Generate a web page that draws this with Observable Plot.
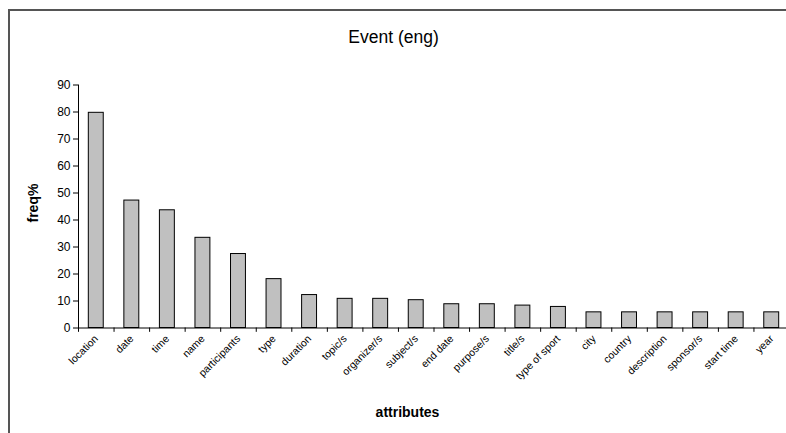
<!DOCTYPE html>
<html>
<head>
<meta charset="utf-8">
<script src="https://cdn.jsdelivr.net/npm/d3@7"></script>
<script src="https://cdn.jsdelivr.net/npm/@observablehq/plot@0.6"></script>
<style>
  html, body { margin: 0; padding: 0; background: #fff; }
  #wrap { position: relative; width: 786px; height: 433px; overflow: hidden; }
  #frame { position: absolute; left: 8px; top: 9px; width: 900px; height: 600px; border: 2px solid #555; box-sizing: border-box; }
  #chart { position: absolute; left: 0; top: 0; }
</style>
</head>
<body>
<div id="wrap"><div id="frame"></div><div id="chart"></div></div>
<script>
const categories = ["location","date","time","name","participants","type","duration","topic/s","organizer/s","subject/s","end date","purpose/s","title/s","type of sport","city","country","description","sponsor/s","start time","year"];
const values = [79.7,47.2,43.6,33.4,27.4,18.1,12.2,10.8,10.8,10.3,8.8,8.8,8.3,7.8,5.8,5.8,5.8,5.8,5.8,5.8];
const yTicks = [0,10,20,30,40,50,60,70,80,90];
const title = "Event (eng)";
const yLabel = "freq%";
const xLabel = "attributes";

const data = categories.map((c, i) => ({attr: c, freq: values[i]}));
const xRange = [78, 789];
const step = (xRange[1] - xRange[0]) / categories.length;
const font = "Liberation Sans, Arial, sans-serif";

const chart = Plot.plot({
  width: 786,
  height: 433,
  marginLeft: 78,
  marginRight: 0,
  marginTop: 84.5,
  marginBottom: 105.5,
  style: {fontFamily: font, background: "transparent", color: "#000"},
  x: {domain: categories, range: xRange, paddingInner: 0.58, paddingOuter: 0.29, round: false, label: null},
  y: {domain: [0, 90], range: [327.5, 84.5], label: null},
  marks: [
    Plot.barY(data, {x: "attr", y: "freq", fill: "#c0c0c0", stroke: "#000", strokeWidth: 1}),
    Plot.ruleY([0], {stroke: "#000"}),
    Plot.frame({anchor: "left", stroke: "#000"}),
    Plot.ruleX(categories, {x: d => d, dx: -step / 2, y1: 0, y2: -1.6, stroke: "#000"}),
    Plot.axisY({ticks: yTicks, tickSize: 5, tickPadding: 3, fontSize: 12, label: null, stroke: "#000"}),
    Plot.axisX({tickSize: 0, tickRotate: -45, tickPadding: 9, fontSize: 10.5, label: null}),
    Plot.text([title], {frameAnchor: "top", dx: -39, dy: -54, fontSize: 17.5, fill: "#000"}),
    Plot.text([yLabel], {frameAnchor: "left", dx: -45, rotate: -90, fontSize: 14, fontWeight: "bold", fill: "#000", dy: 16}),
    Plot.text([xLabel], {frameAnchor: "bottom", dy: 89, dx: -25, fontSize: 14, fontWeight: "bold", fill: "#000"})
  ]
});
document.getElementById("chart").appendChild(chart);
</script>
</body>
</html>
